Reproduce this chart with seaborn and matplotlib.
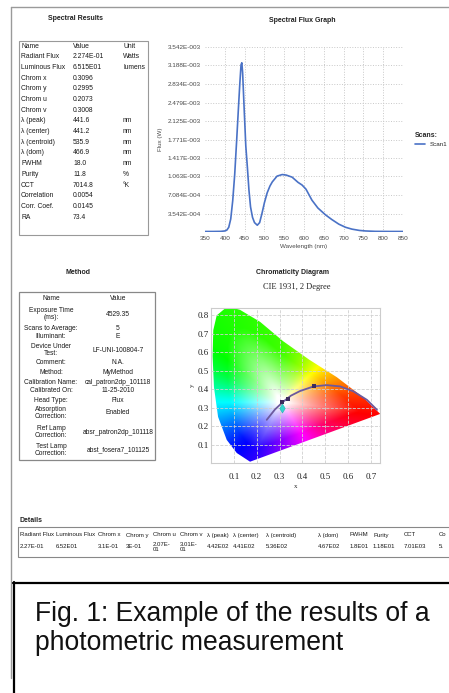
import numpy as np
import pandas as pd
import matplotlib
matplotlib.use('Agg')
import matplotlib.pyplot as plt
import seaborn as sns
from matplotlib.patches import Rectangle, Polygon
from matplotlib.colors import hsv_to_rgb

# --- Spectral Results table ---
result_names = ['Name', 'Radiant Flux', 'Luminous Flux', 'Chrom x', 'Chrom y', 'Chrom u', 'Chrom v',
                'λ (peak)', 'λ (center)', 'λ (centroid)', 'λ (dom)', 'FWHM', 'Purity', 'CCT',
                'Correlation', 'Corr. Coef.', 'RA']
result_values = ['Value', '2.274E-01', '6.515E01', '0.3096', '0.2995', '0.2073', '0.3008',
                 '441.6', '441.2', '535.9', '466.9', '18.0', '11.8', '7014.8',
                 '0.0054', '0.0145', '73.4']
result_units = ['Unit', 'Watts', 'lumens', '', '', '', '',
                'nm', 'nm', 'nm', 'nm', 'nm', '%', '°K', '', '', '']

# --- Method table ---
method_names = ['Name', 'Exposure Time\n(ms):', 'Scans to Average:', 'Illuminant:', 'Device Under\nTest:',
                'Comment:', 'Method:', 'Calibration Name:', 'Calibrated On:', 'Head Type:',
                'Absorption\nCorrection:', 'Ref Lamp\nCorrection:', 'Test Lamp\nCorrection:']
method_values = ['Value', '4529.35', '5', 'E', 'LF-UNI-100804-7', 'N.A.', 'MyMethod',
                 'cal_patron2dp_101118', '11-25-2010', 'Flux', 'Enabled',
                 'absr_patron2dp_101118', 'abst_fosera7_101125']
method_rows_y = [298, 314, 328, 337, 350, 363, 373, 382, 391, 400, 413, 432, 450]

# --- Details table (last column is cut by the screenshot edge) ---
detail_headers = ['Radiant Flux', 'Luminous Flux', 'Chrom x', 'Chrom y', 'Chrom u', 'Chrom v',
                  'λ (peak)', 'λ (center)', 'λ (centroid)', 'λ (dom)', 'FWHM', 'Purity', 'CCT', 'Co']
detail_values = ['2.27E-01', '6.52E01', '3.1E-01', '3E-01', '2.07E-\n01', '3.01E-\n01',
                 '4.42E02', '4.41E02', '5.36E02', '4.67E02', '1.8E01', '1.18E01', '7.01E03', '5.']
detail_cols_x = [20, 56, 98, 126, 153, 180, 207, 233, 266, 318, 350, 373, 404, 439]

# --- Spectral flux (units of 1E-4 W) ---
wavelength_nm = [350, 370, 390, 400, 405, 410, 415, 420, 425, 430, 435, 438, 441, 443, 445, 449,
                 453, 457, 461, 465, 470, 475, 482, 488, 494, 500, 507, 514, 520, 532, 545, 555,
                 570, 585, 595, 605, 620, 635, 654, 670, 688, 705, 721, 740, 755, 780, 820, 850]
flux_1e4 = [0.10, 0.10, 0.12, 0.20, 0.35, 0.9, 2.5, 6.0, 11.0, 17.6, 24.5, 28.5, 32.0, 32.4, 30.5, 23.4,
            16.5, 12.4, 8.0, 4.8, 2.8, 1.8, 1.3, 1.8, 3.6, 5.6, 7.5, 8.8, 9.6, 10.7, 11.0, 10.9,
            10.5, 9.5, 9.0, 8.2, 6.1, 4.6, 3.3, 2.4, 1.5, 0.9, 0.55, 0.3, 0.2, 0.12, 0.1, 0.1]
x_ticks = [350, 400, 450, 500, 550, 600, 650, 700, 750, 800, 850]
y_tick_labels = ['3.542E-004', '7.084E-004', '1.063E-003', '1.417E-003', '1.771E-003',
                 '2.125E-003', '2.479E-003', '2.834E-003', '3.188E-003', '3.542E-003']

# --- Chromaticity diagram ---
locus_x = [0.171, 0.113, 0.069, 0.031, 0.013, 0.007, 0.010, 0.025, 0.061, 0.098, 0.127,
           0.215, 0.316, 0.43, 0.551, 0.667, 0.741]
locus_y = [0.007, 0.054, 0.125, 0.25, 0.41, 0.58, 0.72, 0.80, 0.837, 0.84, 0.83,
           0.765, 0.66, 0.56, 0.465, 0.355, 0.266]
planck_x = [0.244, 0.28, 0.317, 0.35, 0.39, 0.449, 0.507, 0.566, 0.624, 0.683, 0.727]
planck_y = [0.234, 0.29, 0.333, 0.365, 0.39, 0.415, 0.422, 0.415, 0.388, 0.342, 0.288]
cct_marks_x = [0.313, 0.335, 0.449]
cct_marks_y = [0.331, 0.349, 0.415]
chrom_x = 0.3096
chrom_y = 0.2995
chroma_ticks = [0.1, 0.2, 0.3, 0.4, 0.5, 0.6, 0.7]
chroma_yticks = [0.1, 0.2, 0.3, 0.4, 0.5, 0.6, 0.7, 0.8]

# colour of the gamut: hue as seen in the picture, by direction from the white point
white_pt = (0.31, 0.33)
dir_deg = [-10, 8, 32, 50, 68, 90, 134, 150, 176, 197, 228, 249, 297, 326, 350]
hue_deg = [0, 15, 40, 60, 85, 105, 118, 135, 175, 200, 235, 250, 300, 335, 360]

caption_lines = ['Fig. 1: Example of the results of a', 'photometric measurement']

sns.set_theme(style='white')
plt.rcParams['font.family'] = ['Liberation Sans', 'DejaVu Sans']

W, H = 449, 693


def px_box(l, t, r, b):
    return [l / W, 1 - b / H, (r - l) / W, (b - t) / H]


fig = plt.figure(figsize=(W / 100, H / 100), dpi=100)
bg = fig.add_axes([0, 0, 1, 1])
bg.set_xlim(0, W)
bg.set_ylim(H, 0)
bg.axis('off')

# page frame and caption box
bg.plot([11, 11], [7, 678], color='#9a9a9a', lw=1.0)
bg.plot([11, W], [7, 7], color='#9a9a9a', lw=1.0)
bg.plot([13.5, 13.5], [582, H], color='black', lw=1.6)
bg.plot([13, W], [582.5, 582.5], color='black', lw=1.6)
for i, line in enumerate(caption_lines):
    bg.text(35, 621 + i * 29, line, fontsize=19.1, va='baseline', ha='left', color='#111111')

# titles
bold = dict(fontweight='bold', fontsize=5, color='#222222', ha='center', va='center')
bg.text(75, 18, 'Spectral Results', **bold)
bg.text(302, 21, 'Spectral Flux Graph', **bold)
bg.text(78, 272, 'Method', **bold)
bg.text(292, 273, 'Chromaticity Diagram', **bold)
bg.text(20, 521, 'Details', fontweight='bold', fontsize=5, color='#222222', ha='left', va='center')
bg.text(297, 287, 'CIE 1931, 2 Degree', fontsize=6, family='Liberation Serif',
        ha='center', va='center', color='#222222')

# Spectral results table
bg.add_patch(Rectangle((19, 41), 129, 194, fill=False, edgecolor='#999999', lw=0.8))
for i in range(len(result_names)):
    y = 46 + i * 10.7
    bg.text(21, y, result_names[i], fontsize=4.9, va='center', color='#1a1a1a')
    bg.text(73, y, result_values[i], fontsize=4.9, va='center', color='#1a1a1a')
    bg.text(123, y, result_units[i], fontsize=4.9, va='center', color='#1a1a1a')

# Method table
bg.add_patch(Rectangle((19, 292), 136, 168, fill=False, edgecolor='#888888', lw=0.9))
for name, val, y in zip(method_names, method_values, method_rows_y):
    bg.text(51, y, name, fontsize=4.8, ha='center', va='center', linespacing=1.1, color='#1a1a1a')
    bg.text(118, y, val, fontsize=4.8, ha='center', va='center', color='#1a1a1a')

# Details table
bg.add_patch(Rectangle((18, 527), 440, 30, fill=False, edgecolor='#888888', lw=0.8))
for x, head, val in zip(detail_cols_x, detail_headers, detail_values):
    bg.text(x, 535, head, fontsize=4.3, va='center', color='#1a1a1a')
    bg.text(x, 547, val, fontsize=4.3, va='center', linespacing=1.2, color='#1a1a1a')

# Spectral flux graph
ax1 = fig.add_axes(px_box(205, 47, 403, 232))
ax1.patch.set_alpha(0)
spec = pd.DataFrame({'wl': wavelength_nm, 'flux': np.array(flux_1e4) * 1e-4})
sns.lineplot(data=spec, x='wl', y='flux', ax=ax1, color='#4a72c6', lw=1.2, label='Scan1')
ax1.set_xlim(350, 850)
ax1.set_ylim(0, 3.542e-3)
ax1.set_xticks(x_ticks)
ax1.set_xticklabels([str(t) for t in x_ticks])
ax1.set_yticks([float(s) for s in y_tick_labels])
ax1.set_yticklabels(y_tick_labels)
ax1.tick_params(length=0, labelsize=4.6, labelcolor='#4a4a4a', pad=3)
ax1.grid(True, color='#c8c8c8', ls=':', lw=0.7)
ax1.get_xgridlines()[0].set_visible(False)
ax1.get_xgridlines()[-1].set_visible(False)
for s in ax1.spines.values():
    s.set_visible(False)
ax1.set_xlabel('Wavelength (nm)', fontsize=4.5, color='#4a4a4a', labelpad=2)
ax1.set_ylabel('Flux (W)', fontsize=4.5, color='#4a4a4a', labelpad=3)
leg = ax1.legend(title='Scans:', loc='center left', bbox_to_anchor=(1.03, 0.5), frameon=False,
                 fontsize=4.5, title_fontsize=5, handlelength=1.6, alignment='left')
leg.get_title().set_fontweight('bold')

# Chromaticity diagram
ax2 = fig.add_axes(px_box(211, 308, 380, 463))
ax2.patch.set_alpha(0)

# distance from the white point to the gamut edge, by direction
px_, py_ = np.array(locus_x), np.array(locus_y)
qx_, qy_ = np.roll(px_, -1), np.roll(py_, -1)
ang = np.linspace(-np.pi, np.pi, 721)
dx, dy = np.cos(ang)[:, None], np.sin(ang)[:, None]
ex, ey = (qx_ - px_)[None, :], (qy_ - py_)[None, :]
wx, wy = (px_ - white_pt[0])[None, :], (py_ - white_pt[1])[None, :]
den = dx * ey - dy * ex
with np.errstate(divide='ignore', invalid='ignore'):
    t = (wx * ey - wy * ex) / den
    u = (wx * dy - wy * dx) / den
ok = (np.abs(den) > 1e-12) & (t > 0) & (u >= 0) & (u <= 1)
reach = np.where(ok, t, np.inf).min(axis=1)

gx, gy = np.meshgrid(np.linspace(0, 0.74, 400), np.linspace(0, 0.84, 400))
th = np.arctan2(gy - white_pt[1], gx - white_pt[0])
rr = np.hypot(gx - white_pt[0], gy - white_pt[1]) / np.interp(th, ang, reach)
deg = (np.degrees(th) + 10) % 360 - 10
hue = np.interp(deg, dir_deg, hue_deg) % 360 / 360
sat = np.clip((rr - 0.07) / 0.72, 0, 1) ** 0.9
rgb = hsv_to_rgb(np.stack([hue, sat, np.ones_like(sat)], axis=-1))
im = ax2.imshow(rgb, extent=(0, 0.74, 0, 0.84), origin='lower',
                aspect='auto', interpolation='bilinear', zorder=0)
gamut = Polygon(np.column_stack([locus_x, locus_y]), closed=True, facecolor='none', edgecolor='none')
ax2.add_patch(gamut)
im.set_clip_path(gamut)
sns.lineplot(x=planck_x, y=planck_y, sort=False, ax=ax2, color='#6c5a9e', lw=1.3, zorder=3)
sns.scatterplot(x=cct_marks_x, y=cct_marks_y, ax=ax2, color='#3d2b5e', s=5, marker='s',
                linewidth=0, zorder=4, legend=False)
sns.scatterplot(x=[chrom_x], y=[chrom_y], ax=ax2, color='#33d6d0', s=22, marker='d',
                edgecolor='#1aa6a0', linewidth=0.3, zorder=5, legend=False)
ax2.set_xlim(0, 0.74)
ax2.set_ylim(0, 0.84)
ax2.set_xticks(chroma_ticks)
ax2.set_xticklabels([f'{v:.1f}' for v in chroma_ticks])
ax2.set_yticks(chroma_yticks)
ax2.set_yticklabels([f'{v:.1f}' for v in chroma_yticks])
ax2.tick_params(length=0, labelsize=6.5, labelcolor='#222222')
ax2.tick_params(axis='x', pad=7.5)
ax2.tick_params(axis='y', pad=1.5)
for lab in ax2.get_xticklabels() + ax2.get_yticklabels():
    lab.set_family('Liberation Serif')
ax2.grid(True, color='#d0d0d0', ls='--', lw=0.6, zorder=1)
for s in ax2.spines.values():
    s.set_color('#cccccc')
    s.set_linewidth(0.8)
ax2.set_xlabel('x', fontsize=5, family='Liberation Serif', labelpad=2)
ax2.set_ylabel('y', fontsize=5, family='Liberation Serif', labelpad=2, rotation=90)

fig.savefig('out.png', dpi=100)
